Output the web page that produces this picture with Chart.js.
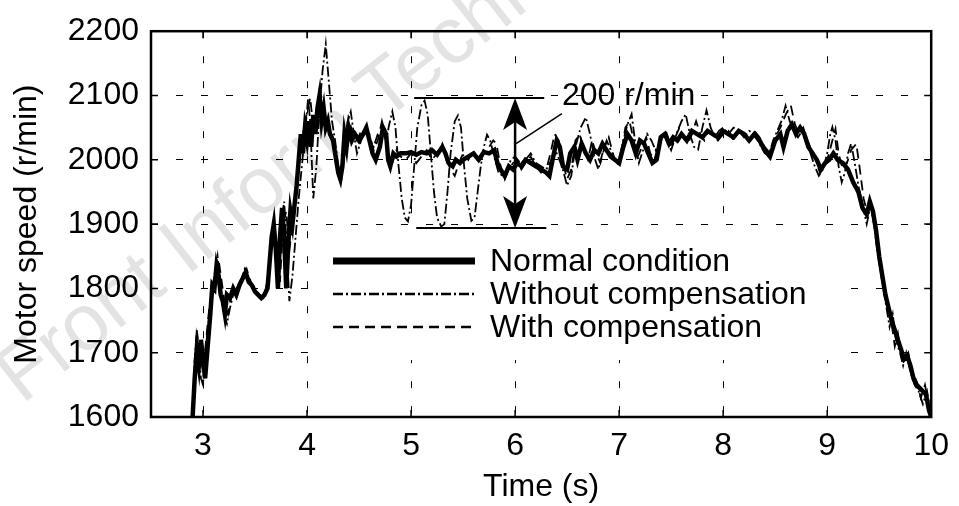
<!DOCTYPE html>
<html>
<head>
<meta charset="utf-8">
<script src="https://cdn.jsdelivr.net/npm/chart.js@4.4.1/dist/chart.umd.min.js"></script>
<style>
  html, body { margin: 0; padding: 0; background: #fff; }
  #wrap { width: 959px; height: 506px; }
</style>
</head>
<body>
<div id="wrap"><canvas id="grafico"></canvas></div>
<script>
// ticks
const xTicks = [3, 4, 5, 6, 7, 8, 9, 10];
const yTicks = [1600, 1700, 1800, 1900, 2000, 2100, 2200];

const seriesLabels = ["Normal condition", "Without compensation", "With compensation"];

// [time (s), speed (r/min)]
const normalData = [
  [2.90,1600],[2.92,1660],[2.94,1705],[2.96,1680],[2.98,1720],[3.00,1690],[3.02,1660],[3.04,1700],
  [3.07,1760],[3.09,1805],[3.11,1800],[3.13,1835],[3.15,1820],[3.17,1790],[3.19,1780],[3.21,1760],
  [3.23,1790],[3.26,1785],[3.29,1800],[3.32,1790],[3.35,1805],[3.38,1815],[3.41,1825],[3.44,1810],
  [3.47,1805],[3.50,1795],[3.53,1790],[3.56,1785],[3.59,1790],[3.62,1800],[3.64,1840],[3.66,1880],
  [3.68,1900],[3.70,1860],[3.72,1800],[3.74,1880],[3.76,1925],[3.78,1880],[3.80,1800],[3.82,1870],
  [3.84,1920],[3.86,1900],[3.88,1930],[3.90,1960],[3.92,2000],[3.94,2040],[3.96,2010],[3.98,2050],
  [4.00,2030],[4.02,2060],[4.04,2020],[4.06,2070],[4.08,2040],[4.10,2080],[4.12,2100],[4.14,2060],
  [4.16,2080],[4.18,2050],[4.20,2060],[4.22,2040],[4.25,2030],[4.28,2000],[4.30,1980],[4.32,1970],
  [4.34,1990],[4.36,2040],[4.38,2020],[4.40,2050],[4.43,2030],[4.46,2040],[4.50,2030],[4.54,2040],
  [4.57,2050],[4.60,2030],[4.63,2010],[4.66,2000],[4.70,2020],[4.73,2050],[4.76,2040],[4.78,2000],
  [4.80,1990],[4.83,2010],[4.86,2005],[4.90,2010],[4.95,2010],[5.00,2012],[5.05,2008],[5.10,2012],
  [5.15,2010],[5.20,2015],[5.25,2008],[5.30,2020],[5.33,2010],[5.36,1995],[5.40,1990],[5.43,2000],
  [5.47,1995],[5.50,2000],[5.55,2005],[5.60,2010],[5.65,2000],[5.70,2012],[5.75,2010],[5.80,2015],
  [5.83,1995],[5.86,1985],[5.90,1975],[5.94,1990],[5.98,1985],[6.02,1995],[6.06,1990],[6.10,2000],
  [6.15,1995],[6.20,1990],[6.25,1985],[6.30,1980],[6.33,1975],[6.36,2000],[6.40,2030],[6.43,2020],
  [6.46,1990],[6.50,1985],[6.53,2010],[6.57,2020],[6.60,2000],[6.64,2025],[6.68,2010],[6.72,2000],
  [6.76,2015],[6.80,2010],[6.84,2025],[6.88,2015],[6.92,2005],[6.96,2000],[7.00,1995],[7.04,2020],
  [7.08,2040],[7.12,2030],[7.16,2010],[7.20,2030],[7.24,2025],[7.28,2010],[7.32,1995],[7.36,2000],
  [7.40,2035],[7.44,2040],[7.48,2025],[7.52,2035],[7.56,2030],[7.60,2040],[7.65,2030],[7.70,2045],
  [7.75,2040],[7.80,2035],[7.85,2045],[7.90,2040],[7.95,2035],[8.00,2045],[8.05,2040],[8.10,2035],
  [8.15,2045],[8.20,2040],[8.25,2030],[8.30,2040],[8.35,2030],[8.40,2015],[8.45,2005],[8.50,2030],
  [8.55,2040],[8.58,2020],[8.62,2045],[8.66,2055],[8.70,2040],[8.74,2050],[8.78,2040],[8.82,2020],
  [8.86,2010],[8.90,2000],[8.94,1985],[8.98,1995],[9.02,2000],[9.06,2010],[9.10,2000],[9.15,1995],
  [9.20,1985],[9.25,1965],[9.30,1950],[9.34,1925],[9.38,1915],[9.41,1935],[9.44,1920],[9.47,1890],
  [9.50,1850],[9.53,1820],[9.56,1790],[9.59,1770],[9.62,1750],[9.65,1735],[9.68,1720],[9.71,1705],
  [9.74,1690],[9.77,1695],[9.80,1680],[9.83,1660],[9.86,1650],[9.89,1645],[9.92,1640],[9.95,1635],
  [9.98,1610],[10.0,1600]
];

const withoutData = [
  [2.90,1600],[2.92,1690],[2.94,1730],[2.96,1700],[2.98,1660],[3.00,1650],[3.02,1700],[3.05,1740],
  [3.08,1790],[3.11,1820],[3.14,1850],[3.17,1800],[3.20,1760],[3.23,1745],[3.26,1770],[3.29,1790],
  [3.32,1800],[3.36,1810],[3.40,1830],[3.44,1815],[3.48,1800],[3.52,1790],[3.56,1785],[3.60,1790],
  [3.63,1830],[3.66,1870],[3.69,1890],[3.72,1840],[3.75,1900],[3.78,1935],[3.80,1880],[3.83,1780],
  [3.86,1820],[3.89,1880],[3.92,1940],[3.95,1990],[3.98,2040],[4.01,2095],[4.03,2060],[4.06,1940],
  [4.09,1990],[4.12,2080],[4.15,2140],[4.18,2180],[4.21,2120],[4.24,2060],[4.27,2030],[4.30,1990],
  [4.33,1970],[4.36,2010],[4.39,2060],[4.42,2075],[4.45,2040],[4.48,2010],[4.52,2030],[4.56,2045],
  [4.60,2030],[4.64,2020],[4.68,2040],[4.72,2045],[4.76,2030],[4.79,2055],[4.82,2075],[4.85,2050],
  [4.88,1990],[4.91,1940],[4.94,1910],[4.97,1904],[5.00,1930],[5.03,1990],[5.06,2050],[5.10,2085],
  [5.13,2092],[5.16,2070],[5.19,2010],[5.22,1950],[5.25,1910],[5.29,1896],[5.32,1900],[5.35,1950],
  [5.38,2010],[5.42,2060],[5.45,2069],[5.48,2050],[5.51,1990],[5.54,1940],[5.58,1905],[5.61,1910],
  [5.64,1950],[5.67,1990],[5.70,2020],[5.73,2039],[5.76,2030],[5.80,2005],[5.84,1980],[5.88,1975],
  [5.92,1985],[5.96,2000],[6.00,2005],[6.05,1995],[6.10,2000],[6.15,2010],[6.20,1995],[6.25,1990],
  [6.30,1985],[6.35,2000],[6.40,2010],[6.45,1990],[6.50,1960],[6.54,1975],[6.58,2020],[6.63,2050],
  [6.68,2066],[6.72,2040],[6.76,2005],[6.80,1985],[6.84,2010],[6.88,2030],[6.92,2015],[6.96,2000],
  [7.00,2000],[7.04,2030],[7.08,2055],[7.12,2071],[7.16,2020],[7.19,1995],[7.23,2015],[7.27,2040],
  [7.31,2030],[7.35,2015],[7.40,2030],[7.45,2045],[7.50,2020],[7.55,2040],[7.60,2060],[7.64,2071],
  [7.68,2040],[7.72,2020],[7.76,2016],[7.80,2050],[7.84,2077],[7.88,2050],[7.92,2035],[7.96,2045],
  [8.00,2050],[8.05,2040],[8.10,2050],[8.15,2045],[8.20,2035],[8.25,2045],[8.30,2040],[8.35,2025],
  [8.40,2010],[8.44,2008],[8.48,2030],[8.52,2045],[8.56,2060],[8.60,2084],[8.64,2060],[8.68,2045],
  [8.72,2035],[8.76,2045],[8.80,2025],[8.84,2010],[8.88,1990],[8.92,1975],[8.96,1985],[9.00,2010],
  [9.03,2040],[9.05,2051],[9.08,2030],[9.11,1990],[9.14,1965],[9.17,1980],[9.20,2010],[9.23,2025],
  [9.26,2000],[9.30,1960],[9.34,1930],[9.38,1900],[9.42,1930],[9.45,1900],[9.48,1860],[9.51,1830],
  [9.54,1800],[9.57,1770],[9.60,1740],[9.63,1760],[9.66,1720],[9.70,1700],[9.73,1680],[9.76,1700],
  [9.80,1670],[9.84,1650],[9.88,1640],[9.92,1620],[9.96,1640],[10.0,1605]
];

const withData = [
  [2.90,1610],[2.92,1680],[2.94,1735],[2.97,1700],[3.00,1670],[3.03,1720],[3.06,1770],[3.09,1800],
  [3.12,1830],[3.15,1845],[3.18,1810],[3.21,1775],[3.24,1760],[3.27,1790],[3.30,1795],[3.34,1805],
  [3.38,1820],[3.42,1830],[3.46,1810],[3.50,1800],[3.54,1790],[3.58,1785],[3.62,1810],[3.65,1870],
  [3.68,1905],[3.71,1850],[3.74,1810],[3.77,1900],[3.80,1920],[3.83,1860],[3.86,1900],[3.89,1950],
  [3.92,1990],[3.95,2030],[3.98,2060],[4.01,2080],[4.03,2097],[4.06,2050],[4.09,2070],[4.12,2110],
  [4.15,2090],[4.18,2060],[4.21,2050],[4.24,2040],[4.27,2010],[4.30,1985],[4.33,1990],[4.36,2030],
  [4.40,2065],[4.44,2040],[4.48,2030],[4.52,2045],[4.56,2050],[4.60,2040],[4.64,2015],[4.68,2030],
  [4.72,2060],[4.75,2040],[4.78,2005],[4.82,1995],[4.86,2015],[4.90,2005],[4.95,2000],[5.00,2010],
  [5.05,1995],[5.10,2005],[5.15,2015],[5.20,2000],[5.25,2010],[5.30,2025],[5.34,2000],[5.38,1985],
  [5.42,1975],[5.46,1995],[5.50,2010],[5.55,2000],[5.60,2015],[5.65,1995],[5.70,2010],[5.75,2020],
  [5.79,2030],[5.82,2025],[5.86,1990],[5.90,1970],[5.94,1985],[5.98,1995],[6.02,2000],[6.06,1985],
  [6.10,1995],[6.15,2005],[6.20,1990],[6.25,1980],[6.30,1985],[6.34,2010],[6.38,2040],[6.42,2030],
  [6.46,1995],[6.50,1970],[6.54,1985],[6.58,2030],[6.62,2040],[6.66,2015],[6.70,2000],[6.74,2030],
  [6.78,2010],[6.82,1995],[6.86,2020],[6.90,2035],[6.94,2010],[6.98,1990],[7.02,2010],[7.06,2050],
  [7.10,2060],[7.14,2030],[7.18,2005],[7.22,2020],[7.26,2035],[7.30,2010],[7.34,2000],[7.38,2025],
  [7.42,2045],[7.46,2030],[7.50,2015],[7.54,2035],[7.58,2050],[7.62,2035],[7.66,2025],[7.70,2040],
  [7.74,2060],[7.78,2040],[7.82,2030],[7.86,2045],[7.90,2040],[7.95,2030],[8.00,2040],[8.05,2045],
  [8.10,2030],[8.15,2045],[8.20,2040],[8.25,2030],[8.30,2045],[8.35,2035],[8.40,2020],[8.45,2010],
  [8.50,2035],[8.55,2050],[8.60,2070],[8.65,2085],[8.69,2055],[8.73,2040],[8.77,2050],[8.81,2030],
  [8.85,2015],[8.89,2000],[8.93,1980],[8.97,1990],[9.01,2005],[9.05,2030],[9.08,2048],[9.11,2010],
  [9.15,1985],[9.19,1995],[9.23,2015],[9.28,2025],[9.31,1990],[9.35,1940],[9.38,1920],[9.41,1930],
  [9.44,1910],[9.47,1880],[9.50,1840],[9.53,1810],[9.56,1785],[9.59,1760],[9.62,1745],[9.65,1710],
  [9.68,1730],[9.71,1700],[9.75,1690],[9.78,1700],[9.82,1670],[9.86,1655],[9.90,1630],[9.94,1650],
  [9.97,1625],[10.0,1600]
];

// 200 r/min span marker
const spanTop = 2096;
const spanBottom = 1894;
const spanTime = 6.0;
const spanText = "200 r/min";
const watermark = "Front Inform Technol";

const FONT = '"Liberation Sans", Arial, Helvetica, sans-serif';
const toXY = arr => arr.map(p => ({ x: p[0], y: p[1] }));

// legend box, span marker, frame and inward ticks
const extras = {
  id: 'extras',
  beforeDraw(chart) {
    const ctx = chart.ctx;
    ctx.save();
    ctx.translate(22, 405);
    ctx.rotate(-38 * Math.PI / 180);
    ctx.fillStyle = 'rgba(0,0,0,0.11)';
    ctx.font = '80px ' + FONT;
    ctx.fillText(watermark, 0, 0);
    ctx.restore();
  },
  beforeDatasetsDraw(chart) {
    const ctx = chart.ctx;
    ctx.save();
    ctx.fillStyle = '#fff';
    ctx.fillRect(310, 228, 535, 132);
    chart.data.datasets.forEach((ds, i) => {
      const y = 261 + i * 33;
      ctx.beginPath();
      ctx.strokeStyle = '#000';
      ctx.lineWidth = i === 0 ? 7 : 2.5;
      ctx.setLineDash(ds.borderDash || []);
      ctx.moveTo(333, y);
      ctx.lineTo(475, y);
      ctx.stroke();
      ctx.setLineDash([]);
      ctx.fillStyle = '#000';
      ctx.font = '32px ' + FONT;
      ctx.textBaseline = 'middle';
      ctx.fillText(ds.label, 490, y + 1);
    });
    ctx.restore();
  },
  afterDatasetsDraw(chart) {
    const ctx = chart.ctx;
    const xs = chart.scales.x, ys = chart.scales.y;
    const a = chart.chartArea;
    ctx.save();
    ctx.strokeStyle = '#000';
    ctx.fillStyle = '#000';
    ctx.setLineDash([]);

    // span lines
    ctx.lineWidth = 2;
    const yT = ys.getPixelForValue(spanTop), yB = ys.getPixelForValue(spanBottom);
    ctx.beginPath();
    ctx.moveTo(xs.getPixelForValue(5.03), yT); ctx.lineTo(xs.getPixelForValue(6.28), yT);
    ctx.moveTo(xs.getPixelForValue(5.05), yB); ctx.lineTo(xs.getPixelForValue(6.30), yB);
    ctx.stroke();

    // double arrow
    const xa = xs.getPixelForValue(spanTime);
    ctx.lineWidth = 2.5;
    ctx.beginPath(); ctx.moveTo(xa, yT + 10); ctx.lineTo(xa, yB - 10); ctx.stroke();
    const head = (tipY, dir) => {
      ctx.beginPath();
      ctx.moveTo(xa, tipY);
      ctx.lineTo(xa - 12, tipY + dir * 32);
      ctx.lineTo(xa, tipY + dir * 24);
      ctx.lineTo(xa + 12, tipY + dir * 32);
      ctx.closePath();
      ctx.fill();
    };
    head(yT, 1);
    head(yB, -1);

    // leader line and label
    ctx.lineWidth = 1.5;
    ctx.beginPath();
    ctx.moveTo(xa + 1, ys.getPixelForValue(2025));
    ctx.lineTo(xs.getPixelForValue(6.45), ys.getPixelForValue(2072));
    ctx.stroke();
    ctx.font = '32px ' + FONT;
    ctx.textBaseline = 'middle';
    ctx.fillText(spanText, xs.getPixelForValue(6.45), ys.getPixelForValue(2100) + 1);

    // inward ticks
    ctx.lineWidth = 1.5;
    ctx.beginPath();
    xTicks.slice(0, -1).forEach(v => {
      const px = xs.getPixelForValue(v);
      ctx.moveTo(px, a.bottom); ctx.lineTo(px, a.bottom - 7);
      ctx.moveTo(px, a.top); ctx.lineTo(px, a.top + 7);
    });
    yTicks.slice(1, -1).forEach(v => {
      const py = ys.getPixelForValue(v);
      ctx.moveTo(a.left, py); ctx.lineTo(a.left + 7, py);
      ctx.moveTo(a.right, py); ctx.lineTo(a.right - 7, py);
    });
    ctx.stroke();

    // frame
    ctx.lineWidth = 2.5;
    ctx.strokeRect(a.left, a.top, a.right - a.left, a.bottom - a.top);
    ctx.restore();
  }
};

new Chart(document.getElementById('grafico'), {
  type: 'line',
  data: {
    datasets: [
      { label: seriesLabels[0], data: toXY(normalData), borderColor: '#000', borderWidth: 4.5, order: 3 },
      { label: seriesLabels[1], data: toXY(withoutData), borderColor: '#000', borderWidth: 1.8, borderDash: [10, 3, 2, 3], order: 2 },
      { label: seriesLabels[2], data: toXY(withData), borderColor: '#000', borderWidth: 1.8, borderDash: [10, 6], order: 1 }
    ]
  },
  options: {
    responsive: true,
    maintainAspectRatio: false,
    animation: false,
    devicePixelRatio: 1,
    layout: { padding: { left: 0, top: 22, right: 27, bottom: 0 } },
    elements: { point: { radius: 0 }, line: { tension: 0, fill: false } },
    plugins: { legend: { display: false }, tooltip: { enabled: false } },
    scales: {
      x: {
        type: 'linear',
        min: 2.5,
        max: 10,
        afterBuildTicks: s => { s.ticks = xTicks.map(v => ({ value: v })); },
        afterFit: s => { s.height = 89; },
        grid: { color: '#000', lineWidth: 1, drawTicks: false },
        border: { display: false, dash: [7, 18] },
        ticks: { color: '#000', font: { family: FONT, size: 32 }, padding: 10, maxRotation: 0, autoSkip: false, callback: v => String(v) },
        title: { display: true, text: 'Time (s)', color: '#000', font: { family: FONT, size: 32 }, padding: { top: 0, bottom: 0 } }
      },
      y: {
        min: 1600,
        max: 2200,
        afterBuildTicks: s => { s.ticks = yTicks.map(v => ({ value: v })); },
        afterFit: s => { s.width = 151; },
        grid: { color: '#000', lineWidth: 1, drawTicks: false },
        border: { display: false, dash: [7, 18] },
        ticks: { color: '#000', font: { family: FONT, size: 32 }, padding: 12, callback: v => String(v) },
        title: { display: true, text: 'Motor speed (r/min)', color: '#000', font: { family: FONT, size: 32 }, padding: { top: 8, bottom: 0 } }
      }
    }
  },
  plugins: [extras]
});
</script>
</body>
</html>
